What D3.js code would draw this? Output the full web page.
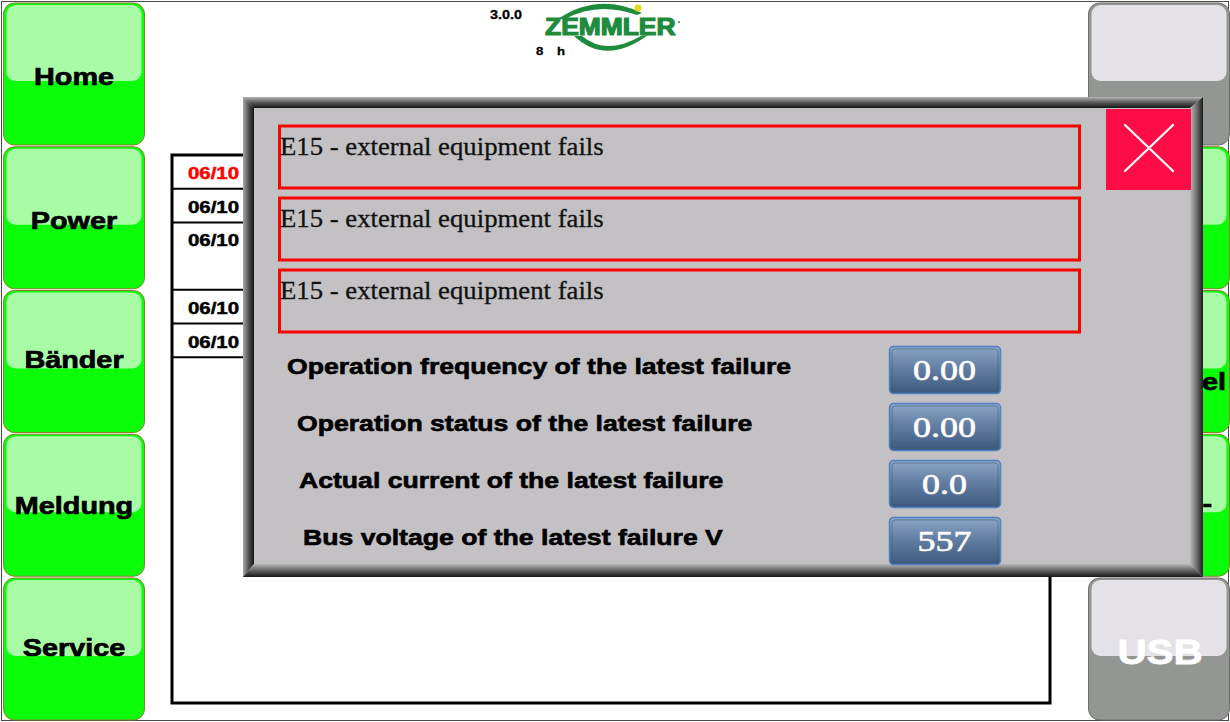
<!DOCTYPE html>
<html lang='en'>
<head>
<meta charset='utf-8'>
<title>ZEMMLER HMI - Fault details</title>
<script src='https://cdnjs.cloudflare.com/ajax/libs/d3/7.8.5/d3.min.js'></script>
<style>
body {
   margin:0;
   overflow:hidden;
   background:white;
}
text { font-family:'Liberation Sans', Arial, sans-serif; }
.serif { font-family:'Liberation Serif', 'Times New Roman', serif; }
</style>
</head>
<body>
<script>
// screen content
var leftNav = ['Home', 'Power', 'Bänder', 'Meldung', 'Service'];
var rightNav = ['', '', 'Level', 'Reset -', 'USB'];
var rightTone = ['gray', 'green', 'green', 'green', 'gray'];
var faultMessages = ['E15 - external equipment fails', 'E15 - external equipment fails', 'E15 - external equipment fails'];
var paramLabels = ['Operation frequency of the latest failure', 'Operation status of the latest failure',
                   'Actual current of the latest failure', 'Bus voltage of the latest failure V'];
var paramValues = ['0.00', '0.00', '0.0', '557'];
var logDates = ['06/10', '06/10', '06/10', '06/10', '06/10'];
var logSpans = [1, 1, 2, 1, 1];
var versionText = '3.0.0';
var runHours = '8';

// layout
var W = 1230, H = 722;
var paramIndent = [287, 297, 299, 303];
var navShift = [2, 2, -2, 0, -2];
var tones = {
   green : {dark:'#0afe0a', light:'#a8fca6', line:'#8d7d2c'},
   gray  : {dark:'#949694', light:'#e4e2e6', line:'#6e706e'}
};

var svg = d3.select('body').append('svg').attr('width', W).attr('height', H);
var defs = svg.append('defs');
function linGrad(id, x1, y1, x2, y2, stops) {
   var g = defs.append('linearGradient').attr('id', id)
      .attr('x1', x1).attr('y1', y1).attr('x2', x2).attr('y2', y2);
   stops.forEach(function(s){ g.append('stop').attr('offset', s[0]).attr('stop-color', s[1]); });
}
linGrad('bevTop', 0, 0, 0, 1, [[0, '#b4b4b4'], [0.5, '#5a5a5a'], [1, '#141414']]);
linGrad('bevLeft', 0, 0, 1, 0, [[0, '#a8a8a8'], [0.5, '#555'], [1, '#141414']]);
linGrad('bevRight', 0, 0, 1, 0, [[0, '#bcbcbc'], [0.55, '#6a6a6a'], [1, '#1a1a1a']]);
linGrad('bevBottom', 0, 0, 0, 1, [[0, '#b8b8b8'], [0.55, '#5c5c5c'], [1, '#181818']]);
linGrad('valFill', 0, 0, 0, 1, [[0, '#8ea7c6'], [0.45, '#637fa3'], [1, '#3d5a7e']]);

// stretched text helper (the panel font renders wider and heavier than Arial)
function label(g, str, x, y, size, k, opts) {
   opts = opts || {};
   var fill = opts.fill || 'black';
   return g.append('text')
      .attr('class', opts.serif ? 'serif' : null)
      .attr('transform', 'translate(' + x + ',' + y + ') scale(' + k + ',1)')
      .attr('text-anchor', opts.anchor || 'start')
      .style('font-size', size + 'px')
      .style('font-weight', opts.serif ? 'normal' : 'bold')
      .style('fill', fill)
      .style('stroke', fill).style('stroke-width', opts.heavy || 0)
      .text(str);
}

// screen frame
svg.append('rect').attr('x', 1.5).attr('y', 1.5).attr('width', W - 3).attr('height', H - 3)
   .style('fill', 'white').style('stroke', '#4a4a4a').style('stroke-width', 1);

// logo
var logo = svg.append('g');
label(logo, versionText, 490, 19, 12, 1.2, {heavy: 0.3});
label(logo, runHours, 536, 55, 11.5, 1.15, {heavy: 0.3});
label(logo, 'h', 557, 55, 11.5, 1.15, {heavy: 0.3});
logo.append('path').attr('d', 'M558,19 Q598,-8 642,13 L637,15 Q598,1 565,19 Z').style('fill', '#1e8c3c');
logo.append('path').attr('d', 'M574,36 Q606,66 648,35 L641,36 Q606,56 582,36 Z').style('fill', '#1e8c3c');
label(logo, 'ZEMMLER', 545, 35, 23, 1.07, {fill: '#1e8c3c', heavy: 1.2})
   .attr('textLength', 122).attr('lengthAdjust', 'spacingAndGlyphs');
logo.append('circle').attr('cx', 638).attr('cy', 8).attr('r', 3.5).style('fill', '#e6d81c');
logo.append('circle').attr('cx', 679).attr('cy', 22).attr('r', 1).style('fill', '#1e8c3c');

// log table
var logY = d3.scaleLinear().domain([0, d3.sum(logSpans) + 1]).range([155, 155 + 33.7 * (d3.sum(logSpans) + 1)]);
var table = svg.append('g');
table.append('rect').attr('x', 172).attr('y', 155).attr('width', 878).attr('height', 548)
   .style('fill', 'white').style('stroke', 'black').style('stroke-width', 3);
var cum = 0;
logDates.forEach(function(d, i) {
   var y0 = logY(cum);
   cum += logSpans[i];
   table.append('line').attr('x1', 172).attr('x2', 1050).attr('y1', logY(cum)).attr('y2', logY(cum))
      .style('stroke', 'black').style('stroke-width', 2);
   label(table, d, 188, y0 + 24, 17, 1.2, {fill: i === 0 ? '#ff0000' : 'black', heavy: 0.5});
});

// side buttons
var navY = d3.scaleBand().domain(d3.range(leftNav.length)).range([3, 720]).paddingInner(0.012);
function button(x, i, tone) {
   var c = tones[tone], y = navY(i), h = navY.bandwidth(), w = 141;
   var g = svg.append('g');
   g.append('rect').attr('x', x).attr('y', y).attr('width', w).attr('height', h).attr('rx', 11)
      .style('fill', c.dark).style('stroke', c.line).style('stroke-width', 1);
   g.append('rect').attr('x', x + 3).attr('y', y + 2).attr('width', w - 6).attr('height', 76).attr('rx', 9)
      .style('fill', c.light);
   return g;
}
leftNav.forEach(function(d, i) {
   var g = button(3.5, i, 'green');
   label(g, d, 74, navY(i) + 80 + navShift[i], 24, 1.2, {anchor: 'middle', heavy: 0.7});
});
rightNav.forEach(function(d, i) {
   var g = button(1088.5, i, rightTone[i]);
   if (!d) return;
   if (rightTone[i] === 'gray') label(g, d, 1160, navY(i) + 86, 36, 1.12, {anchor: 'middle', fill: 'white', heavy: 0.8});
   else label(g, d, i === 2 ? 1226 : 1212, navY(i) + (i === 2 ? 100 : 78), 24, 1.2, {anchor: 'end', heavy: 0.7});
});

// fault dialog
var dlg = svg.append('g');
var L = 243, T = 97, R = 1203, B = 577;
dlg.append('rect').attr('x', L).attr('y', T).attr('width', R - L).attr('height', B - T).style('fill', '#c3c1c4');
dlg.append('polygon').attr('points', [[L, T], [R, T], [R - 13, T + 11], [L + 11, T + 11]].join(' ')).style('fill', 'url(#bevTop)');
dlg.append('polygon').attr('points', [[L, T], [L + 11, T + 11], [L + 11, B - 13], [L, B]].join(' ')).style('fill', 'url(#bevLeft)');
dlg.append('polygon').attr('points', [[R, T], [R, B], [R - 13, B - 13], [R - 13, T + 11]].join(' ')).style('fill', 'url(#bevRight)');
dlg.append('polygon').attr('points', [[L, B], [L + 11, B - 13], [R - 13, B - 13], [R, B]].join(' ')).style('fill', 'url(#bevBottom)');

var faultY = d3.scaleBand().domain(d3.range(faultMessages.length)).range([126, 332]).paddingInner(0.139);
faultMessages.forEach(function(d, i) {
   dlg.append('rect').attr('x', 279.5).attr('y', faultY(i)).attr('width', 800).attr('height', faultY.bandwidth())
      .style('fill', 'none').style('stroke', '#ff0000').style('stroke-width', 3);
   label(dlg, d, 280, faultY(i) + 29, 25, 1.07, {serif: true, fill: '#111', heavy: 0.3});
});

// close button
dlg.append('rect').attr('x', 1106).attr('y', 109).attr('width', 85).attr('height', 81).style('fill', '#fe0c46');
dlg.append('path').attr('d', 'M1125,125 L1173,171 M1173,125 L1125,171')
   .style('stroke', 'white').style('stroke-width', 2.2).style('stroke-linecap', 'round');

var paramY = d3.scaleBand().domain(d3.range(paramLabels.length)).range([346, 564]).paddingInner(0.175);
paramLabels.forEach(function(d, i) {
   var y = paramY(i), h = paramY.bandwidth();
   label(dlg, d, paramIndent[i], y + 28, 22, 1.21, {heavy: 0.6});
   dlg.append('rect').attr('x', 889.5).attr('y', y + 0.5).attr('width', 111).attr('height', h).attr('rx', 4)
      .style('fill', 'url(#valFill)').style('stroke', '#4d80c4').style('stroke-width', 1.5);
   dlg.append('rect').attr('x', 892).attr('y', y + 3).attr('width', 106).attr('height', h - 5).attr('rx', 3)
      .style('fill', 'none').style('stroke', '#3a5374').style('stroke-width', 0.8).style('opacity', 0.6);
   label(dlg, paramValues[i], 944.5, y + 34, 30, 1.2, {serif: true, anchor: 'middle', fill: 'white', heavy: 0.6});
});
</script>
</body>
</html>
